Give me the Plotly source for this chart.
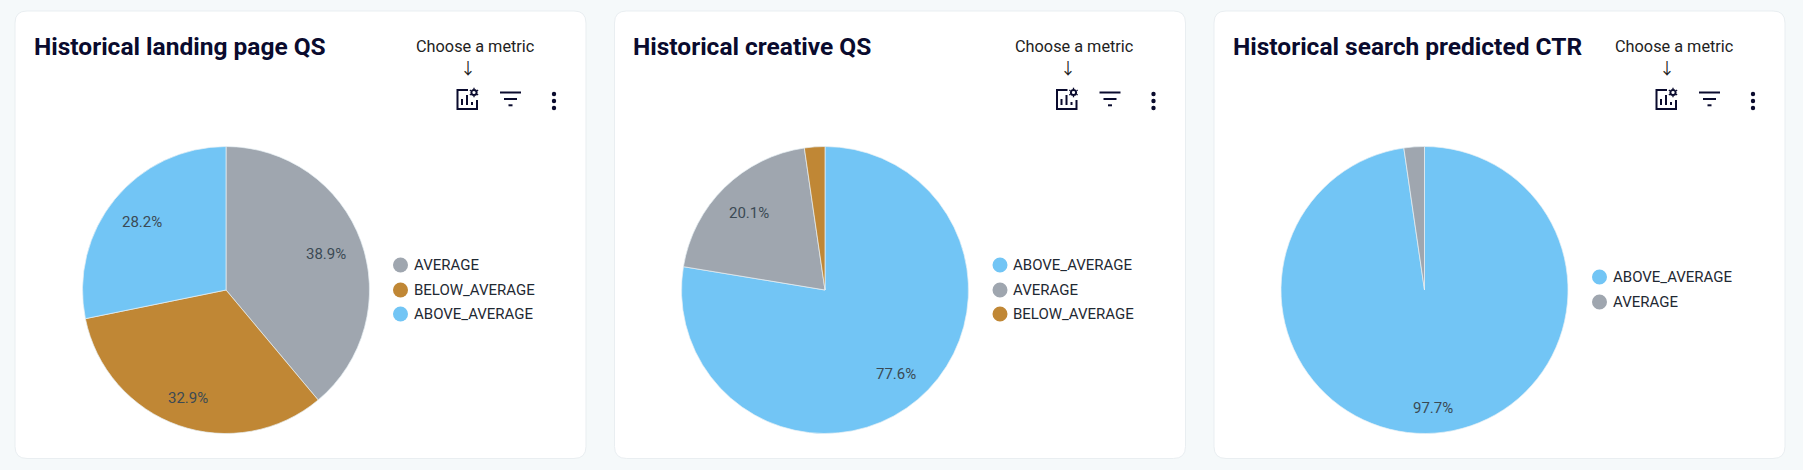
import math
import plotly.graph_objects as go

W = 1803
H = 470

# datos
titles = ["Historical landing page QS", "Historical creative QS", "Historical search predicted CTR"]
labels_1 = ["AVERAGE", "BELOW_AVERAGE", "ABOVE_AVERAGE"]
values_1 = [38.9, 32.9, 28.2]
labels_2 = ["ABOVE_AVERAGE", "AVERAGE", "BELOW_AVERAGE"]
values_2 = [77.6, 20.1, 2.3]
labels_3 = ["ABOVE_AVERAGE", "AVERAGE"]
values_3 = [97.7, 2.3]

colors = {"AVERAGE": "#9fa6af", "BELOW_AVERAGE": "#c08735", "ABOVE_AVERAGE": "#72c5f5"}
NAVY = "#0a0b2e"

card_left = [15, 614.5, 1214]
pie_cx = [226, 825, 1424.5]
legend_y = [[265, 290, 314], [265, 290, 314], [277, 302]]
# distancia del texto de cada porcion al centro, en px
label_dist = [[106, 114, 108], [110, 108, 0], [118, 0]]
PIE_CY = 290
PIE_R = 143.5


def px(x):
    return x / W


def py(y):
    return 1 - y / H


def pt(x, y):
    return f"{px(x):.5f},{py(y):.5f}"


def line(x0, y0, x1, y1, width=2.0):
    return dict(type="line", xref="paper", yref="paper", x0=px(x0), y0=py(y0), x1=px(x1), y1=py(y1),
                line=dict(color=NAVY, width=width))


def dot(cx, cy, r, color=NAVY, outline=None, width=0):
    return dict(type="circle", xref="paper", yref="paper", x0=px(cx - r), x1=px(cx + r), y0=py(cy - r), y1=py(cy + r),
                fillcolor=color, line=dict(color=outline or color, width=width))


def card(x0, y0, x1, y1, r=12):
    d = (f"M {pt(x0 + r, y0)} L {pt(x1 - r, y0)} Q {pt(x1, y0)} {pt(x1, y0 + r)} "
         f"L {pt(x1, y1 - r)} Q {pt(x1, y1)} {pt(x1 - r, y1)} "
         f"L {pt(x0 + r, y1)} Q {pt(x0, y1)} {pt(x0, y1 - r)} "
         f"L {pt(x0, y0 + r)} Q {pt(x0, y0)} {pt(x0 + r, y0)} Z")
    return dict(type="path", xref="paper", yref="paper", path=d, fillcolor="white",
                line=dict(color="#e9eef1", width=1), layer="below")


def icons(dx):
    s = []
    # icono de grafico con engranaje
    d = f"M {pt(dx + 468, 90)} L {pt(dx + 457.5, 90)} L {pt(dx + 457.5, 109)} L {pt(dx + 477, 109)} L {pt(dx + 477, 100)}"
    s.append(dict(type="path", xref="paper", yref="paper", path=d, line=dict(color=NAVY, width=2)))
    s.append(line(dx + 462, 105, dx + 462, 99))
    s.append(line(dx + 467, 105, dx + 467, 95))
    s.append(line(dx + 472, 105, dx + 472, 102))
    for k in range(6):
        a = math.radians(30 + 60 * k)
        s.append(line(dx + 474 + 3.5 * math.cos(a), 92.5 + 3.5 * math.sin(a),
                      dx + 474 + 4.8 * math.cos(a), 92.5 + 4.8 * math.sin(a), 1.3))
    s.append(dot(dx + 474, 92.5, 2.6, "white", NAVY, 2))
    # filtro
    s.append(line(dx + 500, 92.5, dx + 521, 92.5))
    s.append(line(dx + 504, 99, dx + 517, 99))
    s.append(line(dx + 508.5, 105.3, dx + 512.5, 105.3))
    # tres puntos
    s.append(dot(dx + 554, 94, 2.2))
    s.append(dot(dx + 554, 101, 2.2))
    s.append(dot(dx + 554, 108, 2.2))
    return s


fig = go.Figure()
shapes = []
annotations = []


def note(text, x, y, size, color, anchor="left", family="Roboto"):
    annotations.append(dict(text=text, xref="paper", yref="paper", x=px(x), y=py(y), showarrow=False,
                            xanchor=anchor, yanchor="middle", font=dict(family=family, size=size, color=color)))


all_labels = [labels_1, labels_2, labels_3]
all_values = [values_1, values_2, values_3]

for i in range(3):
    dx = card_left[i] - card_left[0]
    shapes.append(card(card_left[i], 11, card_left[i] + 571, 458.5))
    shapes.extend(icons(dx))
    labels = all_labels[i]
    values = all_values[i]
    fig.add_trace(go.Pie(
        labels=labels, values=values, sort=False, direction="clockwise", rotation=0,
        textinfo="none",
        marker=dict(colors=[colors[l] for l in labels], line=dict(color="#e8f1f5", width=0.7)),
        domain=dict(x=[px(pie_cx[i] - PIE_R), px(pie_cx[i] + PIE_R)],
                    y=[py(PIE_CY + PIE_R), py(PIE_CY - PIE_R)]),
        showlegend=False, hoverinfo="label+percent",
    ))
    # porcentajes, sobre el angulo medio de cada porcion
    acum = 0
    total = sum(values)
    for v, dist in zip(values, label_dist[i]):
        ang = 2 * math.pi * (acum + v / 2) / total
        acum += v
        if v > 5:
            note(f"{v:.1f}%", pie_cx[i] + dist * math.sin(ang), PIE_CY - dist * math.cos(ang), 15, "#3b4a54", "center")
    note(f"<b>{titles[i]}</b>", 31.5 + dx, 47, 24.5, NAVY)
    note("Choose a metric", 474.8 + dx, 46, 16.3, "#222222", "center")
    note("↓", 468 + dx, 67, 16, "#222222", "center", "Noto Sans CJK SC")
    # leyenda
    for lab, ly in zip(labels, legend_y[i]):
        shapes.append(dot(400.5 + dx, ly, 7.5, colors[lab]))
        note(lab, 411.5 + dx, ly, 15, "#1f2933")

fig.update_layout(
    width=W, height=H,
    margin=dict(l=0, r=0, t=0, b=0),
    paper_bgcolor="#f5f9fa",
    plot_bgcolor="#f5f9fa",
    shapes=shapes,
    annotations=annotations,
)

fig.write_html("out.html", config=dict(displayModeBar=False),
               post_script="document.body.style.margin='0';document.body.style.overflow='hidden';")
